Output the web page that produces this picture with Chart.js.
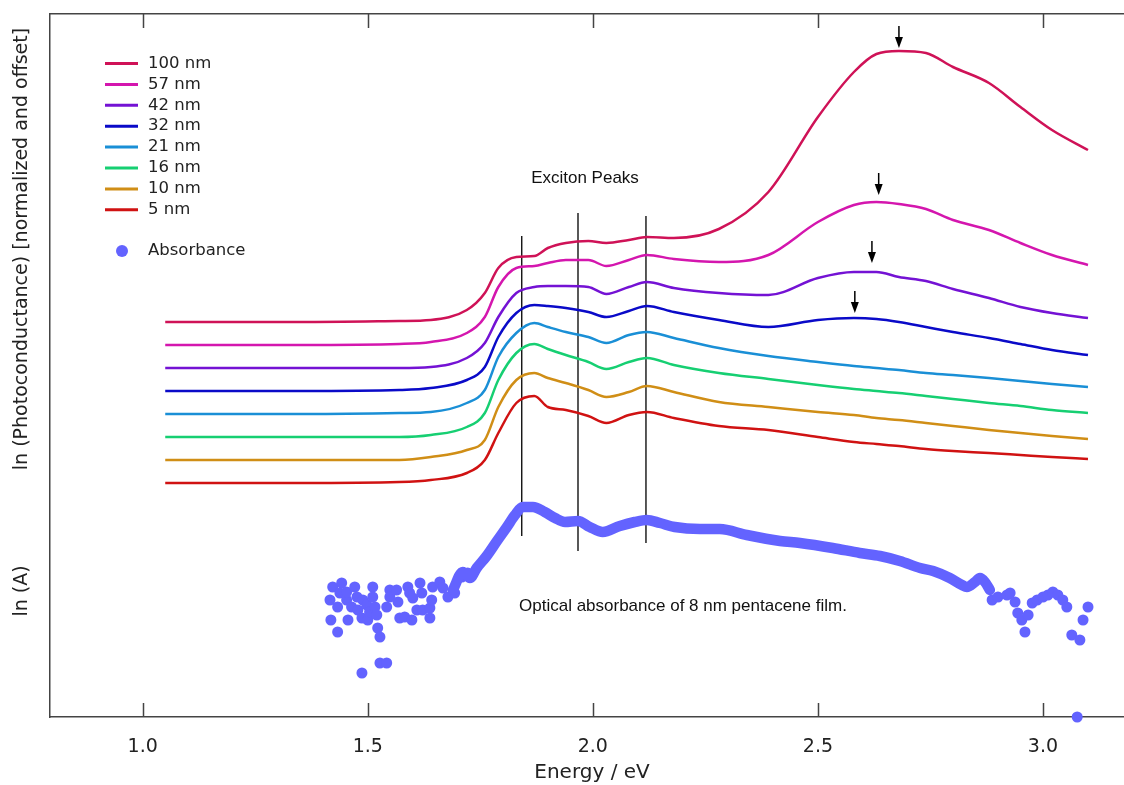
<!DOCTYPE html>
<html>
<head>
<meta charset="utf-8">
<script src="https://cdn.jsdelivr.net/npm/chart.js@4.4.1/dist/chart.umd.min.js"></script>
<style>
  html, body { margin: 0; background: #fff; }
  canvas { display: block; }
</style>
</head>
<body>
<canvas id="chart" width="1124" height="785"></canvas>
<script>
// photon energy grid (eV) shared by all photoconductance curves
const energy = [1.05, 1.35, 1.57, 1.64, 1.72, 1.76, 1.79, 1.83, 1.87, 1.90, 1.94, 1.99, 2.03, 2.08,
  2.12, 2.18, 2.28, 2.39, 2.50, 2.58, 2.63, 2.68, 2.74, 2.80, 2.88, 2.95, 3.02, 3.10];

// ln(photoconductance), normalized and offset (arbitrary units)
const pc100 = [3.95, 3.95, 3.96, 3.97, 4.07, 4.24, 4.49, 4.60, 4.61, 4.69, 4.74, 4.76, 4.74, 4.77,
  4.80, 4.79, 4.88, 5.25, 6.00, 6.45, 6.63, 6.66, 6.64, 6.50, 6.34, 6.10, 5.87, 5.67];
const pc57 = [3.72, 3.72, 3.73, 3.75, 3.84, 4.00, 4.30, 4.49, 4.51, 4.54, 4.57, 4.57, 4.51, 4.57,
  4.62, 4.58, 4.55, 4.62, 4.95, 5.12, 5.15, 5.13, 5.08, 4.97, 4.87, 4.74, 4.62, 4.52];
const pc42 = [3.49, 3.49, 3.49, 3.50, 3.59, 3.74, 4.00, 4.24, 4.30, 4.31, 4.31, 4.30, 4.23, 4.30,
  4.35, 4.29, 4.24, 4.22, 4.39, 4.45, 4.45, 4.40, 4.36, 4.28, 4.19, 4.10, 4.04, 3.99];
const pc32 = [3.26, 3.26, 3.27, 3.29, 3.37, 3.50, 3.80, 4.04, 4.12, 4.11, 4.09, 4.05, 4.00, 4.06,
  4.11, 4.05, 3.97, 3.90, 3.97, 3.99, 3.98, 3.95, 3.90, 3.85, 3.79, 3.73, 3.67, 3.62];
const pc21 = [3.03, 3.03, 3.04, 3.05, 3.14, 3.27, 3.60, 3.84, 3.94, 3.90, 3.85, 3.80, 3.74, 3.82,
  3.85, 3.79, 3.69, 3.61, 3.55, 3.51, 3.49, 3.47, 3.44, 3.42, 3.39, 3.36, 3.33, 3.30];
const pc16 = [2.80, 2.80, 2.80, 2.82, 2.90, 3.04, 3.37, 3.64, 3.73, 3.68, 3.62, 3.55, 3.48, 3.55,
  3.59, 3.52, 3.44, 3.38, 3.32, 3.28, 3.26, 3.24, 3.21, 3.18, 3.14, 3.11, 3.07, 3.04];
const pc10 = [2.57, 2.57, 2.57, 2.60, 2.67, 2.77, 3.10, 3.37, 3.44, 3.39, 3.34, 3.27, 3.20, 3.25,
  3.31, 3.25, 3.15, 3.10, 3.05, 3.02, 2.99, 2.97, 2.94, 2.91, 2.87, 2.84, 2.81, 2.78];
const pc5 = [2.34, 2.34, 2.35, 2.37, 2.44, 2.57, 2.84, 3.14, 3.21, 3.10, 3.07, 3.01, 2.94, 3.02,
  3.05, 2.99, 2.91, 2.87, 2.80, 2.75, 2.73, 2.71, 2.68, 2.66, 2.64, 2.62, 2.60, 2.58];

const pcLabels = ['100 nm', '57 nm', '42 nm', '32 nm', '21 nm', '16 nm', '10 nm', '5 nm'];
const pcColors = ['#cf1257', '#d416ae', '#7412d4', '#0a0ac8', '#1a8fd6', '#16cf72', '#d08e16', '#d01212'];
const pcSeries = [pc100, pc57, pc42, pc32, pc21, pc16, pc10, pc5];

// optical absorbance of 8 nm film, dense part
const absBandE = [1.689, 1.711, 1.727, 1.742, 1.764, 1.787, 1.809, 1.827, 1.844, 1.867, 1.893, 1.916,
  1.938, 1.967, 1.993, 2.022, 2.060, 2.093, 2.120, 2.149, 2.182, 2.238, 2.282, 2.342, 2.416, 2.460,
  2.533, 2.593, 2.638, 2.682, 2.727, 2.756, 2.793, 2.820, 2.831, 2.849, 2.860, 2.871, 2.882];
const absBand = [1.27, 1.45, 1.39, 1.49, 1.61, 1.76, 1.90, 2.02, 2.10, 2.10, 2.05, 1.99,
  1.95, 1.96, 1.90, 1.85, 1.91, 1.95, 1.97, 1.94, 1.90, 1.88, 1.88, 1.82, 1.76, 1.74,
  1.69, 1.64, 1.61, 1.56, 1.49, 1.46, 1.39, 1.32, 1.30, 1.35, 1.39, 1.35, 1.27];
// noisy low-energy points
const absLowE = [1.422, 1.416, 1.418, 1.433, 1.442, 1.438, 1.433, 1.453, 1.456, 1.453, 1.464, 1.471,
  1.476, 1.478, 1.487, 1.489, 1.498, 1.500, 1.504, 1.511, 1.511, 1.516, 1.520, 1.522, 1.527, 1.527,
  1.542, 1.487, 1.542, 1.549, 1.549, 1.564, 1.567, 1.571, 1.582, 1.589, 1.593, 1.598, 1.600, 1.609,
  1.616, 1.620, 1.622, 1.638, 1.642, 1.638, 1.644, 1.660, 1.667, 1.678, 1.693, 1.709, 1.722];
const absLow = [1.30, 1.17, 0.97, 0.85, 1.34, 1.24, 1.10, 1.17, 0.97, 1.25, 1.10, 1.30,
  1.20, 1.07, 0.99, 1.17, 1.12, 0.97, 1.05, 1.30, 1.20, 1.10, 1.02, 0.89, 0.80, 0.54,
  0.54, 0.44, 1.10, 1.27, 1.20, 1.27, 1.15, 0.99, 1.00, 1.30, 1.24, 0.97, 1.19, 1.07,
  1.34, 1.24, 1.07, 1.09, 1.17, 0.99, 1.30, 1.35, 1.29, 1.20, 1.24, 1.40, 1.44];
// noisy high-energy points
const absHighE = [2.887, 2.900, 2.920, 2.927, 2.938, 2.944, 2.953, 2.960, 2.967, 2.976, 2.987, 3.000,
  3.011, 3.022, 3.033, 3.044, 3.053, 3.064, 3.082, 3.089, 3.100, 3.076];
const absHigh = [1.17, 1.20, 1.22, 1.24, 1.15, 1.04, 0.97, 0.85, 1.02, 1.14, 1.17, 1.20,
  1.22, 1.25, 1.22, 1.17, 1.10, 0.82, 0.77, 0.97, 1.10, 0.00];

// exciton peak markers
const peakE = [1.842, 1.967, 2.118];
const peakTop = [4.81, 5.04, 5.01];
const peakBottom = [1.81, 1.66, 1.74];

// arrows over the high energy maxima (100, 57, 42, 32 nm)
const arrowE = [2.680, 2.635, 2.620, 2.582];
const arrowTop = [6.91, 5.44, 4.76, 4.26];
const arrowTip = [6.69, 5.22, 4.54, 4.04];

const xTicks = [1.0, 1.5, 2.0, 2.5, 3.0];
const X_MIN = 0.794, X_MAX = 3.18, Y_MIN = 0, Y_MAX = 7.03;

const ABS_COLOR = '#6363ff';
const AXIS_COLOR = '#444';
const pts = (xs, ys) => xs.map((x, i) => ({ x, y: ys[i] }));

const datasets = pcSeries.map((s, i) => ({
  label: pcLabels[i], data: pts(energy, s), borderColor: pcColors[i], borderWidth: 2.5,
  pointRadius: 0, cubicInterpolationMode: 'monotone', fill: false
}));
datasets.push({ label: 'absBand', data: pts(absBandE, absBand), borderColor: ABS_COLOR, borderWidth: 10.5,
  borderCapStyle: 'round', borderJoinStyle: 'round', pointRadius: 0, cubicInterpolationMode: 'monotone' });
datasets.push({ label: 'Absorbance', data: pts(absLowE, absLow).concat(pts(absHighE, absHigh)), showLine: false,
  pointRadius: 5.5, pointBackgroundColor: ABS_COLOR, pointBorderWidth: 0, clip: false });
peakE.forEach((e, i) => datasets.push({
  label: 'peak' + i, data: [{ x: e, y: peakBottom[i] }, { x: e, y: peakTop[i] }],
  borderColor: '#111', borderWidth: 1.4, pointRadius: 0
}));

const decor = {
  id: 'decor',
  afterDraw(chart) {
    const { ctx, scales: { x, y }, chartArea: a } = chart;
    ctx.save();
    // inward tick marks, bottom and top
    ctx.strokeStyle = AXIS_COLOR; ctx.lineWidth = 1.5;
    xTicks.forEach(v => {
      const px = Math.round(x.getPixelForValue(v)) + 0.5;
      ctx.beginPath(); ctx.moveTo(px, a.bottom); ctx.lineTo(px, a.bottom - 14);
      ctx.moveTo(px, a.top); ctx.lineTo(px, a.top + 14); ctx.stroke();
    });
    // arrows
    ctx.strokeStyle = '#000'; ctx.fillStyle = '#000'; ctx.lineWidth = 1.5;
    arrowE.forEach((e, i) => {
      const px = x.getPixelForValue(e), y0 = y.getPixelForValue(arrowTop[i]), y1 = y.getPixelForValue(arrowTip[i]);
      ctx.beginPath(); ctx.moveTo(px, y0); ctx.lineTo(px, y1 - 8); ctx.stroke();
      ctx.beginPath(); ctx.moveTo(px - 4, y1 - 11); ctx.lineTo(px + 4, y1 - 11); ctx.lineTo(px, y1); ctx.closePath(); ctx.fill();
    });
    // texts
    ctx.fillStyle = '#222';
    ctx.textAlign = 'center'; ctx.textBaseline = 'middle';
    ctx.font = '20px "DejaVu Sans"';
    ctx.fillText('Energy / eV', 592, 773);
    ctx.font = '19px "DejaVu Sans"';
    [['ln (Photoconductance) [normalized and offset]', 249], ['ln (A)', 591]].forEach(([t, cy]) => {
      ctx.save(); ctx.translate(22, cy); ctx.rotate(-Math.PI / 2); ctx.fillText(t, 0, 0); ctx.restore();
    });
    ctx.fillStyle = '#111';
    ctx.font = '17px "Liberation Sans"';
    ctx.fillText('Exciton Peaks', 585, 178);
    ctx.textAlign = 'left';
    ctx.fillText('Optical absorbance of 8 nm pentacene film.', 519, 606);
    // legend
    ctx.font = '16.5px "DejaVu Sans"';
    ctx.fillStyle = '#222';
    pcLabels.forEach((l, i) => {
      const ly = 63.5 + i * 20.9;
      ctx.strokeStyle = pcColors[i]; ctx.lineWidth = 3;
      ctx.beginPath(); ctx.moveTo(105, ly); ctx.lineTo(138, ly); ctx.stroke();
      ctx.fillText(l, 148, ly);
    });
    ctx.fillStyle = ABS_COLOR;
    ctx.beginPath(); ctx.arc(122, 251, 6, 0, Math.PI * 2); ctx.fill();
    ctx.fillStyle = '#222';
    ctx.fillText('Absorbance', 148, 251);
    ctx.restore();
  }
};

new Chart(document.getElementById('chart'), {
  type: 'line',
  data: { datasets },
  plugins: [decor],
  options: {
    responsive: false, animation: false, devicePixelRatio: 1,
    layout: { autoPadding: false, padding: { top: 14, right: 0, bottom: 0, left: 0 } },
    plugins: { legend: { display: false }, tooltip: { enabled: false } },
    scales: {
      x: {
        type: 'linear', position: 'bottom', min: X_MIN, max: X_MAX,
        afterBuildTicks: s => { s.ticks = xTicks.map(v => ({ value: v })); },
        afterFit: s => { s.height = 68; s.paddingLeft = 0; s.paddingRight = 0; },
        ticks: { autoSkip: false, maxRotation: 0, padding: 11, color: '#222',
          font: { family: 'DejaVu Sans', size: 19 }, callback: v => v.toFixed(1) },
        grid: { display: false },
        border: { display: true, color: AXIS_COLOR, width: 1.5 }
      },
      xTop: {
        type: 'linear', position: 'top', min: X_MIN, max: X_MAX,
        afterFit: s => { s.height = 0; s.paddingLeft = 0; s.paddingRight = 0; },
        ticks: { display: false }, grid: { display: false },
        border: { display: true, color: AXIS_COLOR, width: 1.5 }
      },
      y: {
        type: 'linear', position: 'left', min: Y_MIN, max: Y_MAX,
        afterFit: s => { s.width = 50; },
        ticks: { display: false }, grid: { display: false },
        border: { display: true, color: AXIS_COLOR, width: 1.5 }
      }
    }
  }
});
</script>
</body>
</html>
